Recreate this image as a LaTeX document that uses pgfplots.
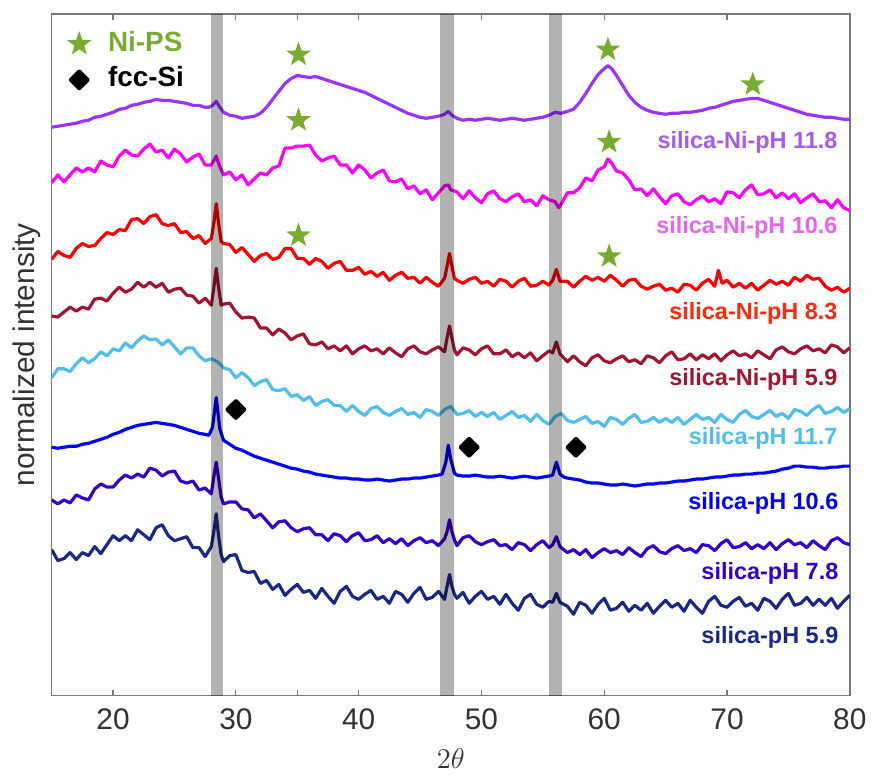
\documentclass[border=0pt]{standalone}
\usepackage{fontspec}
\setmainfont{Liberation Sans}
\usepackage{pgfplots}
\pgfplotsset{compat=1.18}
\definecolor{cpurple}{RGB}{153,51,255}
\definecolor{cmag}{RGB}{255,0,255}
\definecolor{cred}{RGB}{255,0,0}
\definecolor{cdred}{RGB}{162,20,47}
\definecolor{clblue}{RGB}{77,190,238}
\definecolor{cblue}{RGB}{0,0,255}
\definecolor{cindigo}{RGB}{51,0,204}
\definecolor{cnavy}{RGB}{25,40,135}
\definecolor{nigreen}{RGB}{119,172,48}
\definecolor{lpurple}{RGB}{165,90,240}
\definecolor{lmag}{RGB}{230,100,240}
\definecolor{lred}{RGB}{255,40,10}
\definecolor{axgray}{RGB}{120,120,120}
\definecolor{txgray}{RGB}{50,50,50}
\pgfdeclareplotmark{fivestar}{%
  \pgfpathmoveto{\pgfpointpolar{90}{\pgfplotmarksize}}%
  \pgfpathlineto{\pgfpointpolar{126}{0.4\pgfplotmarksize}}%
  \pgfpathlineto{\pgfpointpolar{162}{\pgfplotmarksize}}%
  \pgfpathlineto{\pgfpointpolar{198}{0.4\pgfplotmarksize}}%
  \pgfpathlineto{\pgfpointpolar{234}{\pgfplotmarksize}}%
  \pgfpathlineto{\pgfpointpolar{270}{0.4\pgfplotmarksize}}%
  \pgfpathlineto{\pgfpointpolar{306}{\pgfplotmarksize}}%
  \pgfpathlineto{\pgfpointpolar{342}{0.4\pgfplotmarksize}}%
  \pgfpathlineto{\pgfpointpolar{18}{\pgfplotmarksize}}%
  \pgfpathlineto{\pgfpointpolar{54}{0.4\pgfplotmarksize}}%
  \pgfpathclose\pgfusepathqfill}
\begin{document}
\begin{tikzpicture}
\begin{axis}[
  scale only axis, width=401.5pt, height=343pt,
  xmin=15, xmax=80, ymin=-700, ymax=-14,
  axis line style={draw=axgray, line width=0.7pt},
  xtick={20,30,...,80}, extra x ticks={35}, extra x tick labels={},
  ytick=\empty,
  tick align=inside, xtick pos=both, xticklabel pos=bottom,
  major tick length=3pt,
  every tick/.style={axgray, line width=0.6pt},
  tick label style={font=\fontsize{15}{18}\selectfont, text=txgray},
  /pgf/number format/assume math mode=true,
  xticklabel style={yshift=-3pt},
  xlabel={$2\theta$}, ylabel={normalized intensity},
  label style={font=\fontsize{15}{18}\selectfont, text=txgray},
  xlabel style={at={(axis description cs:0.5,-0.0918)}, anchor=center},
  ylabel style={at={(axis description cs:-0.031,0.5)}, anchor=center},
  legend style={at={(axis description cs:0,1)}, anchor=north west, draw=none, fill=none,
    inner sep=0pt, xshift=7.5pt, yshift=-7.5pt,
    font=\bfseries\fontsize{14}{16}\selectfont,
    nodes={inner sep=1pt, text height=10pt, text depth=3pt}, row sep=3pt},
  legend cell align=left,
  legend image code/.code={\path[draw=none,fill=none] (-6pt,0pt) -- (13.5pt,0pt); \draw[#1] plot coordinates {(0pt,0pt)};},
  every axis plot/.append style={line width=1.6pt, line join=round},
]
% silica-Ni-pH 11.8
\addplot[cpurple, forget plot] coordinates {(15,-128) (15.5,-127) (16,-126) (16.5,-125) (17,-124) (17.5,-122) (18,-121) (18.5,-118) (19,-117) (19.5,-115) (20,-113) (20.5,-110) (21,-109) (21.5,-106) (22,-105) (22.5,-103) (23,-102) (23.5,-100) (24,-101) (24.5,-101) (25,-102) (25.5,-103) (26,-104) (26.5,-106) (27,-106) (27.5,-108) (27.8,-108) (28.1,-106) (28.4,-102) (28.7,-108) (29,-113) (29.5,-116) (30,-117) (30.5,-119) (31,-118) (31.5,-117) (32,-114) (32.5,-108) (33,-100) (33.5,-92) (34,-84) (34.5,-79) (35,-76) (35.5,-77) (36,-78) (36.5,-77) (37,-79) (37.5,-81) (38,-83) (38.5,-85) (39,-87) (39.5,-89) (40,-91) (40.5,-93) (41,-96) (41.5,-99) (42,-102) (42.5,-105) (43,-108) (43.5,-111) (44,-114) (44.5,-116) (45,-118) (45.5,-119) (46,-118) (46.5,-117) (47,-115) (47.3,-112) (47.6,-116) (48,-119) (48.5,-121) (49,-120) (49.5,-121) (50,-120) (50.5,-119) (51,-120) (51.5,-121) (52,-120) (52.5,-119) (53,-120) (53.5,-121) (54,-120) (54.5,-119) (55,-118) (55.5,-116) (56,-113) (56.5,-114) (57,-112) (57.5,-110) (58,-103) (58.5,-94) (59,-84) (59.5,-75) (60,-69) (60.3,-66) (60.6,-69) (61,-76) (61.5,-86) (62,-96) (62.5,-103) (63,-108) (63.5,-111) (64,-113) (64.5,-114) (65,-115) (65.5,-114) (66,-114) (66.5,-113) (67,-113) (67.5,-112) (68,-111) (68.5,-109) (69,-108) (69.5,-106) (70,-104) (70.5,-102) (71,-101) (71.5,-100) (72,-99) (72.5,-99) (73,-101) (73.5,-103) (74,-105) (74.5,-107) (75,-109) (75.5,-111) (76,-113) (76.5,-115) (77,-116) (77.5,-117) (78,-118) (78.5,-118) (79,-119) (79.5,-120) (80,-120)};
% silica-Ni-pH 10.6
\addplot[cmag, forget plot] coordinates {(15,-184) (15.5,-176) (16,-183) (16.5,-176) (17,-169) (17.5,-173) (18,-169) (18.5,-173) (19,-162) (19.5,-166) (20,-168) (20.5,-157) (21,-151) (21.5,-156) (22,-157) (22.5,-150) (23,-145) (23.5,-153) (24,-151) (24.5,-159) (25,-150) (25.5,-155) (26,-163) (26.5,-158) (27,-155) (27.5,-166) (28,-166) (28.4,-157) (28.7,-168) (29,-176) (29.5,-173) (30,-181) (30.5,-176) (31,-186) (31.5,-180) (32,-174) (32.5,-176) (33,-169) (33.5,-167) (34,-149) (34.5,-149) (35,-147) (35.5,-147) (36,-146) (36.5,-156) (37,-162) (37.5,-159) (38,-157) (38.5,-166) (39,-166) (39.5,-174) (40,-166) (40.5,-171) (41,-179) (41.5,-174) (42,-171) (42.5,-182) (43,-183) (43.5,-180) (44,-190) (44.5,-187) (45,-195) (45.5,-191) (46,-201) (46.5,-194) (47,-187) (47.3,-186) (47.5,-191) (48,-193) (48.5,-200) (49,-192) (49.5,-199) (50,-204) (50.5,-195) (51,-192) (51.5,-200) (52,-203) (52.5,-198) (53,-195) (53.5,-203) (54,-201) (54.5,-207) (55,-197) (55.5,-201) (56,-203) (56.3,-209) (56.6,-203) (57,-194) (57.5,-194) (58,-189) (58.5,-179) (59,-182) (59.5,-171) (60,-168) (60.3,-160) (60.6,-164) (61,-172) (61.5,-174) (62,-181) (62.5,-191) (63,-190) (63.5,-197) (64,-190) (64.5,-198) (65,-205) (65.5,-197) (66,-195) (66.5,-203) (67,-206) (67.5,-201) (68,-197) (68.5,-203) (69,-200) (69.5,-205) (70,-193) (70.5,-194) (71,-199) (71.5,-191) (72,-186) (72.5,-196) (73,-195) (73.5,-191) (74,-199) (74.5,-194) (75,-200) (75.5,-195) (76,-204) (76.5,-199) (77,-195) (77.5,-203) (78,-202) (78.5,-209) (79,-201) (79.5,-209) (80,-212)};
% silica-Ni-pH 8.3
\addplot[cred, forget plot] coordinates {(15,-261) (15.5,-253) (16,-257) (16.5,-259) (17,-250) (17.5,-245) (18,-248) (18.5,-247) (19,-240) (19.5,-234) (20,-236) (20.5,-231) (21,-232) (21.5,-221) (22,-220) (22.5,-225) (23,-218) (23.5,-216) (24,-225) (24.5,-227) (25,-225) (25.5,-234) (26,-233) (26.5,-240) (27,-237) (27.5,-245) (28,-240) (28.2,-225) (28.4,-205) (28.6,-225) (28.8,-243) (29,-245) (29.5,-246) (30,-254) (30.5,-249) (31,-256) (31.5,-263) (32,-257) (32.5,-255) (33,-261) (33.5,-259) (34,-250) (34.5,-250) (35,-260) (35.5,-260) (36,-266) (36.5,-260) (37,-263) (37.5,-270) (38,-265) (38.5,-263) (39,-272) (39.5,-272) (40,-269) (40.5,-276) (41,-273) (41.5,-278) (42,-274) (42.5,-282) (43,-277) (43.5,-274) (44,-280) (44.5,-279) (45,-285) (45.5,-279) (46,-284) (46.5,-288) (47,-280) (47.2,-268) (47.4,-255) (47.6,-268) (47.8,-280) (48,-282) (48.5,-285) (49,-281) (49.5,-279) (50,-285) (50.5,-283) (51,-288) (51.5,-281) (52,-283) (52.5,-289) (53,-283) (53.5,-280) (54,-288) (54.5,-287) (55,-283) (55.5,-287) (55.8,-282) (56.1,-271) (56.4,-283) (57,-283) (57.5,-289) (58,-283) (58.5,-278) (59,-282) (59.5,-279) (60,-283) (60.5,-277) (61,-282) (61.5,-288) (62,-282) (62.5,-281) (63,-288) (63.5,-291) (64,-288) (64.5,-286) (65,-292) (65.5,-290) (66,-294) (66.5,-286) (67,-287) (67.5,-292) (68,-285) (68.5,-281) (69,-288) (69.3,-272) (69.6,-285) (70,-282) (70.5,-289) (71,-285) (71.5,-290) (72,-285) (72.5,-292) (73,-287) (73.5,-282) (74,-286) (74.5,-283) (75,-287) (75.5,-279) (76,-283) (76.5,-277) (77,-281) (77.5,-280) (78,-288) (78.5,-292) (79,-289) (79.5,-294) (80,-290)};
% silica-Ni-pH 5.9
\addplot[cdred, forget plot] coordinates {(15,-318) (15.5,-319) (16,-314) (16.5,-309) (17,-313) (17.5,-309) (18,-311) (18.5,-301) (19,-300) (19.5,-303) (20,-295) (20.5,-289) (21,-294) (21.5,-291) (22,-284) (22.5,-289) (23,-284) (23.5,-289) (24,-285) (24.5,-294) (25,-291) (25.5,-290) (26,-297) (26.5,-298) (27,-305) (27.5,-300) (28,-307) (28.2,-290) (28.4,-270) (28.6,-290) (28.8,-307) (29,-306) (29.5,-305) (30,-314) (30.5,-320) (31,-319) (31.5,-320) (32,-330) (32.5,-330) (33,-337) (33.5,-331) (34,-335) (34.5,-342) (35,-338) (35.5,-336) (36,-346) (36.5,-347) (37,-344) (37.5,-351) (38,-348) (38.5,-353) (39,-348) (39.5,-356) (40,-351) (40.5,-348) (41,-353) (41.5,-351) (42,-356) (42.5,-350) (43,-355) (43.5,-359) (44,-351) (44.5,-348) (45,-354) (45.5,-356) (46,-352) (46.5,-349) (47,-354) (47.2,-340) (47.4,-328) (47.6,-340) (47.8,-352) (48,-357) (48.5,-350) (49,-352) (49.5,-357) (50,-351) (50.5,-348) (51,-356) (51.5,-356) (52,-352) (52.5,-359) (53,-355) (53.5,-360) (54,-355) (54.5,-363) (55,-358) (55.5,-353) (55.8,-355) (56.1,-344) (56.4,-356) (57,-364) (57.5,-358) (58,-364) (58.5,-368) (59,-360) (59.5,-357) (60,-363) (60.5,-365) (61,-361) (61.5,-358) (62,-364) (62.5,-362) (63,-366) (63.5,-358) (64,-360) (64.5,-365) (65,-358) (65.5,-354) (66,-362) (66.5,-361) (67,-356) (67.5,-362) (68,-357) (68.5,-361) (69,-356) (69.5,-363) (70,-357) (70.5,-353) (71,-358) (71.5,-356) (72,-360) (72.5,-353) (73,-357) (73.5,-361) (74,-352) (74.5,-349) (75,-354) (75.5,-356) (76,-351) (76.5,-348) (77,-353) (77.5,-351) (78,-355) (78.5,-347) (79,-349) (79.5,-355) (80,-350)};
% silica-pH 11.7
\addplot[clblue, forget plot] coordinates {(15,-380) (15.5,-371) (16,-371) (16.5,-374) (17,-366) (17.5,-360) (18,-365) (18.5,-361) (19,-354) (19.5,-358) (20,-351) (20.5,-353) (21,-345) (21.5,-350) (22,-343) (22.5,-338) (23,-342) (23.5,-341) (24,-347) (24.5,-342) (25,-349) (25.5,-356) (26,-350) (26.5,-350) (27,-358) (27.5,-363) (28,-361) (28.5,-364) (29,-370) (29.5,-372) (30,-380) (30.5,-375) (31,-380) (31.5,-388) (32,-384) (32.5,-382) (33,-392) (33.5,-393) (34,-391) (34.5,-399) (35,-397) (35.5,-403) (36,-399) (36.5,-408) (37,-404) (37.5,-402) (38,-408) (38.5,-408) (39,-414) (39.5,-408) (40,-414) (40.5,-418) (41,-411) (41.5,-409) (42,-415) (42.5,-418) (43,-414) (43.5,-411) (44,-417) (44.5,-415) (45,-420) (45.5,-412) (46,-414) (46.5,-418) (47,-412) (47.5,-409) (48,-417) (48.5,-416) (49,-413) (49.5,-419) (50,-415) (50.5,-419) (51,-415) (51.5,-422) (52,-418) (52.5,-414) (53,-420) (53.5,-418) (54,-424) (54.5,-417) (55,-423) (55.5,-427) (56,-419) (56.5,-416) (57,-423) (57.5,-425) (58,-422) (58.5,-419) (59,-426) (59.5,-424) (60,-429) (60.5,-420) (61,-422) (61.5,-427) (62,-421) (62.5,-417) (63,-425) (63.5,-424) (64,-420) (64.5,-425) (65,-421) (65.5,-425) (66,-420) (66.5,-427) (67,-422) (67.5,-417) (68,-422) (68.5,-420) (69,-425) (69.5,-417) (70,-422) (70.5,-425) (71,-417) (71.5,-413) (72,-419) (72.5,-421) (73,-417) (73.5,-413) (74,-419) (74.5,-416) (75,-421) (75.5,-412) (76,-414) (76.5,-418) (77,-412) (77.5,-408) (78,-416) (78.5,-414) (79,-410) (79.5,-415) (80,-411)};
% silica-pH 10.6
\addplot[cblue, forget plot] coordinates {(15,-450) (15.5,-451) (16,-450) (16.5,-449) (17,-449) (17.5,-447) (18,-446) (18.5,-444) (19,-442) (19.5,-440) (20,-437) (20.5,-435) (21,-432) (21.5,-430) (22,-428) (22.5,-427) (23,-426) (23.5,-425) (24,-426) (24.5,-427) (25,-428) (25.5,-430) (26,-432) (26.5,-434) (27,-436) (27.5,-437) (27.8,-438) (28.1,-430) (28.4,-400) (28.7,-432) (29,-443) (29.5,-447) (30,-451) (30.5,-453) (31,-456) (31.5,-459) (32,-461) (32.5,-463) (33,-465) (33.5,-467) (34,-469) (34.5,-471) (35,-472) (35.5,-474) (36,-475) (36.5,-477) (37,-478) (37.5,-479) (38,-480) (38.5,-481) (39,-481) (39.5,-482) (40,-482) (40.5,-483) (41,-483) (41.5,-482) (42,-483) (42.5,-484) (43,-483) (43.5,-482) (44,-482) (44.5,-481) (45,-481) (45.5,-480) (46,-479) (46.5,-478) (46.8,-477) (47.1,-465) (47.3,-448) (47.5,-462) (47.8,-476) (48,-478) (48.5,-479) (49,-479) (49.5,-478) (50,-479) (50.5,-480) (51,-480) (51.5,-479) (52,-480) (52.5,-481) (53,-480) (53.5,-479) (54,-480) (54.5,-481) (55,-480) (55.5,-479) (55.8,-478) (56.1,-465) (56.4,-477) (56.7,-480) (57,-481) (57.5,-482) (58,-483) (58.5,-485) (59,-486) (59.5,-486) (60,-487) (60.5,-488) (61,-488) (61.5,-487) (62,-488) (62.5,-489) (63,-488) (63.5,-487) (64,-487) (64.5,-486) (65,-486) (65.5,-485) (66,-484) (66.5,-484) (67,-483) (67.5,-482) (68,-482) (68.5,-481) (69,-480) (69.5,-480) (70,-479) (70.5,-478) (71,-478) (71.5,-477) (72,-477) (72.5,-476) (73,-476) (73.5,-475) (74,-474) (74.5,-472) (75,-471) (75.5,-469) (76,-469) (76.5,-470) (77,-470) (77.5,-471) (78,-471) (78.5,-470) (79,-470) (79.5,-469) (80,-469)};
% silica-pH 7.8
\addplot[cindigo, forget plot] coordinates {(15,-503) (15.5,-507) (16,-503) (16.5,-506) (17,-498) (17.5,-501) (18,-503) (18.5,-492) (19,-487) (19.5,-490) (20,-490) (20.5,-483) (21,-478) (21.5,-481) (22,-477) (22.5,-480) (23,-471) (23.5,-473) (24,-479) (24.5,-475) (25,-474) (25.5,-484) (26,-486) (26.5,-484) (27,-493) (27.5,-491) (28,-497) (28.2,-480) (28.4,-465) (28.6,-482) (28.8,-500) (29,-507) (29.5,-505) (30,-505) (30.5,-512) (31,-513) (31.5,-521) (32,-517) (32.5,-524) (33,-531) (33.5,-525) (34,-524) (34.5,-531) (35,-535) (35.5,-532) (36,-531) (36.5,-538) (37,-538) (37.5,-544) (38,-537) (38.5,-539) (39,-545) (39.5,-539) (40,-536) (40.5,-544) (41,-543) (41.5,-539) (42,-546) (42.5,-542) (43,-547) (43.5,-542) (44,-549) (44.5,-544) (45,-541) (45.5,-546) (46,-544) (46.5,-549) (47,-542) (47.2,-535) (47.4,-523) (47.6,-535) (47.8,-543) (48,-549) (48.5,-541) (49,-539) (49.5,-545) (50,-548) (50.5,-545) (51,-543) (51.5,-549) (52,-548) (52.5,-553) (53,-546) (53.5,-548) (54,-554) (54.5,-548) (55,-544) (55.5,-551) (55.8,-548) (56.1,-540) (56.4,-550) (57,-556) (57.5,-553) (58,-558) (58.5,-553) (59,-561) (59.5,-556) (60,-552) (60.5,-556) (61,-554) (61.5,-558) (62,-551) (62.5,-556) (63,-560) (63.5,-552) (64,-549) (64.5,-555) (65,-557) (65.5,-552) (66,-549) (66.5,-554) (67,-552) (67.5,-556) (68,-548) (68.5,-549) (69,-554) (69.5,-547) (70,-543) (70.5,-551) (71,-550) (71.5,-546) (72,-552) (72.5,-548) (73,-552) (73.5,-546) (74,-553) (74.5,-547) (75,-543) (75.5,-548) (76,-546) (76.5,-551) (77,-544) (77.5,-549) (78,-553) (78.5,-544) (79,-541) (79.5,-546) (80,-548)};
% silica-pH 5.9
\addplot[cnavy, forget plot] coordinates {(15,-553) (15.5,-564) (16,-562) (16.5,-556) (17,-563) (17.5,-556) (18,-559) (18.5,-550) (19,-557) (19.5,-548) (20,-539) (20.5,-544) (21,-539) (21.5,-544) (22,-533) (22.5,-538) (23,-543) (23.5,-531) (24,-528) (24.5,-539) (25,-544) (25.5,-542) (26,-540) (26.5,-551) (27,-551) (27.5,-560) (28,-550) (28.2,-535) (28.4,-517) (28.6,-540) (28.8,-558) (29,-565) (29.5,-559) (30,-558) (30.5,-574) (31,-576) (31.5,-575) (32,-587) (32.5,-584) (33,-593) (33.5,-588) (34,-599) (34.5,-593) (35,-588) (35.5,-596) (36,-594) (36.5,-602) (37,-592) (37.5,-600) (38,-607) (38.5,-595) (39,-590) (39.5,-600) (40,-603) (40.5,-598) (41,-594) (41.5,-603) (42,-600) (42.5,-607) (43,-595) (43.5,-598) (44,-606) (44.5,-597) (45,-591) (45.5,-603) (46,-601) (46.5,-595) (47,-603) (47.2,-590) (47.4,-578) (47.6,-590) (47.8,-598) (48,-602) (48.5,-596) (49,-607) (49.5,-600) (50,-595) (50.5,-603) (51,-600) (51.5,-608) (52,-598) (52.5,-607) (53,-614) (53.5,-602) (54,-598) (54.5,-608) (55,-611) (55.5,-605) (55.8,-606) (56.1,-597) (56.4,-606) (57,-610) (57.5,-618) (58,-606) (58.5,-609) (59,-617) (59.5,-608) (60,-602) (60.5,-614) (61,-612) (61.5,-606) (62,-615) (62.5,-609) (63,-614) (63.5,-607) (64,-617) (64.5,-610) (65,-604) (65.5,-611) (66,-607) (66.5,-615) (67,-604) (67.5,-611) (68,-617) (68.5,-605) (69,-600) (69.5,-609) (70,-611) (70.5,-605) (71,-601) (71.5,-610) (72,-607) (72.5,-614) (73,-602) (73.5,-605) (74,-612) (74.5,-603) (75,-597) (75.5,-609) (76,-607) (76.5,-601) (77,-609) (77.5,-603) (78,-609) (78.5,-602) (79,-612) (79.5,-605) (80,-599)};
% grey bands
\addplot[draw=none, fill=black, fill opacity=0.3, forget plot] coordinates {(27.94,-700) (28.99,-700) (28.99,-14) (27.94,-14)} -- cycle;
\addplot[draw=none, fill=black, fill opacity=0.3, forget plot] coordinates {(46.64,-700) (47.77,-700) (47.77,-14) (46.64,-14)} -- cycle;
\addplot[draw=none, fill=black, fill opacity=0.3, forget plot] coordinates {(55.47,-700) (56.6,-700) (56.6,-14) (55.47,-14)} -- cycle;
% markers
\addplot[only marks, mark=fivestar, mark size=6.5pt, color=nigreen] coordinates {(35.1,-55) (60.3,-50) (72.1,-85) (35.1,-121) (60.4,-143) (35.1,-237) (60.4,-258)};
\addlegendentry{\textcolor{nigreen}{Ni-PS}}
\addplot[only marks, mark=square*, mark size=3.2pt, mark options={rotate=45}, color=black] coordinates {(30,-412) (49,-450) (57.7,-450)};
\addlegendentry{fcc-Si}
% labels
\begin{scope}[every node/.style={anchor=east, font=\bfseries\fontsize{11.8}{14}\selectfont, inner sep=0pt}]
\node[text=lpurple] at (axis cs:79.03,-143) {silica-Ni-pH 11.8};
\node[text=lmag] at (axis cs:79.03,-229) {silica-Ni-pH 10.6};
\node[text=lred] at (axis cs:79.03,-315) {silica-Ni-pH 8.3};
\node[text=cdred] at (axis cs:79.03,-382) {silica-Ni-pH 5.9};
\node[text=clblue] at (axis cs:79.03,-441) {silica-pH 11.7};
\node[text=cblue] at (axis cs:79.1,-507) {silica-pH 10.6};
\node[text=cindigo] at (axis cs:79.1,-577) {silica-pH 7.8};
\node[text=cnavy] at (axis cs:79.1,-641) {silica-pH 5.9};
\end{scope}
\end{axis}
\path[use as bounding box] ([shift={(-26pt,-39.5pt)}]current axis.south west) rectangle ([shift={(9pt,7pt)}]current axis.north east);
\end{tikzpicture}
\end{document}
